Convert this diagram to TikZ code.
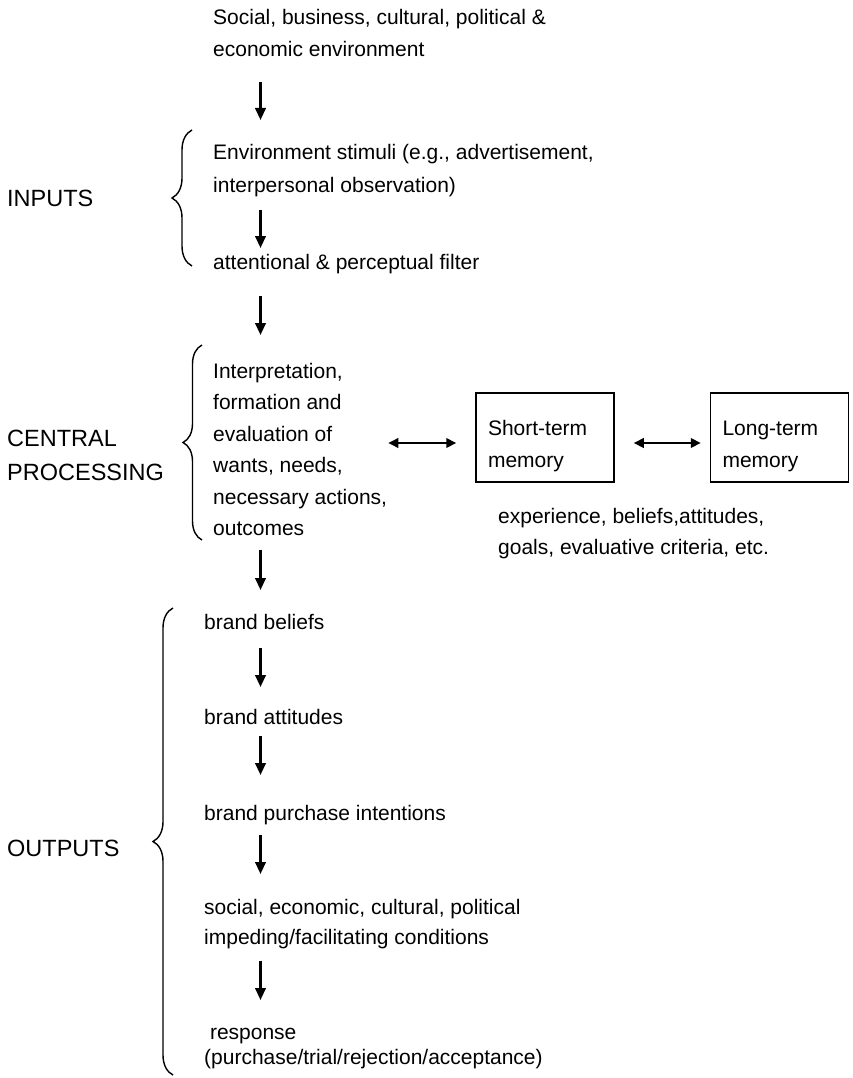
\documentclass[tikz,border=0pt]{standalone}
\usepackage{fontspec}
\setmainfont{Liberation Sans}
\usetikzlibrary{arrows.meta,decorations.pathreplacing}

\newcommand{\bodyfont}{\fontsize{21}{32}\selectfont}
\newcommand{\labelfont}{\fontsize{23.5}{34}\selectfont}

\tikzset{
  txt/.style={anchor=north west, inner sep=0pt, align=left, font=\bodyfont,
    execute at begin node=\strut, execute at end node=\strut},
  lbl/.style={anchor=west, inner sep=0pt, align=left, font=\labelfont},
  mem/.style={draw, line width=1.5pt, text width=114pt, inner xsep=12pt, inner ysep=0pt,
    minimum height=89pt, align=left, font=\bodyfont,
    execute at begin node={\rule{0pt}{37.6pt}}, execute at end node=\strut},
  flow/.style={line width=2.4pt, -{Triangle[length=12pt,width=10.5pt]}},
  dflow/.style={line width=2.2pt, {Triangle[length=10pt,width=9.5pt]}-{Triangle[length=10pt,width=9.5pt]}},
  bracket/.style={decorate, decoration={brace, amplitude=#1}, line width=1.4pt},
}

\begin{document}
\begin{tikzpicture}[x=1pt, y=-1pt]
  \useasboundingbox (0,0) rectangle (852,1078);
  \coordinate (ax) at (260.5,0);
  \coordinate (mrow) at (0,443);

  % inputs
  \node[txt] (env) at (213,9.1) {Social, business, cultural, political \&\\economic environment};
  \node[txt, font=\fontsize{21}{33}\selectfont] (stim) at (213,144.4) {Environment stimuli (e.g., advertisement,\\interpersonal observation)};
  \node[txt] (filt) at (213,247.1) {attentional \& perceptual filter};

  % central processing
  \node[txt, font=\fontsize{21}{31.5}\selectfont] (interp) at (213,362.95) {Interpretation,\\formation and\\evaluation of\\wants, needs,\\necessary actions,\\outcomes};
  \node[mem] (stm) at (545,437.5) {Short-term\\memory};
  \node[mem] (ltm) at (779.5,437.5) {Long-term\\memory};
  \node[txt, font=\fontsize{21}{31}\selectfont] (exp) at (498,507.8) {experience, beliefs,attitudes,\\goals, evaluative criteria, etc.};

  % outputs
  \node[txt] (belief) at (204,607.1) {brand beliefs};
  \node[txt] (attit) at (204,702.1) {brand attitudes};
  \node[txt] (intent) at (204,798.1) {brand purchase intentions};
  \node[txt, font=\fontsize{21}{30}\selectfont] (cond) at (204,899.5) {social, economic, cultural, political\\impeding/facilitating conditions};
  \node[txt, font=\fontsize{21}{25}\selectfont] (resp) at (204,1028) {\ response\\(purchase/trial/rejection/acceptance)};

  % labels
  \node[lbl] (inputs) at (7,198) {INPUTS};
  \node[lbl] (central) at (7,455) {CENTRAL\\PROCESSING};
  \node[lbl] (outputs) at (7,848) {OUTPUTS};

  % braces
  \draw[bracket=20] (192,266) -- (192,130);
  \draw[bracket=19] (202,540) -- (202,345);
  \draw[bracket=20] (173,1075) -- (173,608);

  % arrows
  \foreach \a/\b/\s/\t in {env/stim/16/24.4, stim/filt/6.6/-0.9, filt/interp/16.9/27.95,
      interp/belief/4.05/17.1, belief/attit/8.9/15.1, attit/intent/1.9/23.1,
      intent/cond/4.9/25.5, cond/resp/6.5/28}
    \draw[flow, shorten <=\s pt, shorten >=\t pt] (\a.south -| ax) -- (\b.north -| ax);

  \draw[dflow, shorten <=1pt, shorten >=19pt] (interp.east |- mrow) -- (stm.west |- mrow);
  \draw[dflow, shorten <=19pt, shorten >=9pt] (stm.east |- mrow) -- (ltm.west |- mrow);
\end{tikzpicture}
\end{document}
